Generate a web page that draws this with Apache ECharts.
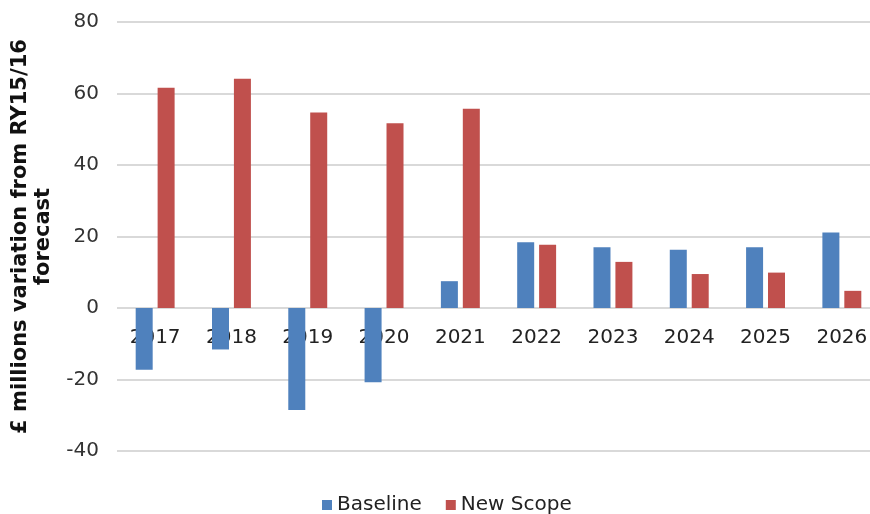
<!DOCTYPE html>
<html>
<head>
<meta charset="utf-8">
<script src="https://cdn.jsdelivr.net/npm/echarts@6/dist/echarts.min.js"></script>
<style>
  html, body { margin: 0; padding: 0; background: #fff; }
  #chart { width: 870px; height: 514px; }
</style>
</head>
<body>
<div id="chart"></div>
<script>
// years along the x axis
const years = ["2017", "2018", "2019", "2020", "2021", "2022", "2023", "2024", "2025", "2026"];
// £m variation from RY15/16 forecast
const baseline = [-17.3, -11.6, -28.5, -20.8, 7.5, 18.4, 17.0, 16.3, 17.0, 21.1];
const newScope = [61.6, 64.1, 54.7, 51.7, 55.7, 17.7, 12.9, 9.5, 9.9, 4.8];
const yTicks = { min: -40, max: 80, step: 20 };

const font = "DejaVu Sans, Verdana, sans-serif";

let myChart = echarts.init(document.getElementById("chart"));

let option = {
  backgroundColor: "#fff",
  animation: false,
  grid: {
    left: 117,
    width: 763,
    top: 22,
    bottom: 63,
    containLabel: false,
    outerBoundsMode: "none"
  },
  legend: {
    bottom: -6,
    left: 317,
    itemWidth: 10,
    itemHeight: 10,
    itemGap: 24,
    icon: "rect",
    textStyle: { fontFamily: font, fontSize: 20, color: "#222" },
    data: ["Baseline", "New Scope"]
  },
  xAxis: {
    type: "category",
    data: years,
    // labels sit just under the zero line, as in the original
    offset: -143,
    axisLine: { onZero: false, show: false },
    axisTick: { show: false },
    axisLabel: {
      fontFamily: font,
      fontSize: 20,
      color: "#222",
      margin: 20
    }
  },
  yAxis: {
    type: "value",
    min: yTicks.min,
    max: yTicks.max,
    interval: yTicks.step,
    name: "£ millions variation from RY15/16\nforecast",
    nameLocation: "middle",
    nameGap: 53,
    nameTextStyle: {
      fontFamily: font,
      fontSize: 21,
      fontWeight: "bold",
      color: "#111",
      lineHeight: 23
    },
    axisLine: { show: false },
    axisTick: { show: false },
    axisLabel: {
      fontFamily: font,
      fontSize: 20,
      color: "#333",
      margin: 18
    },
    splitLine: { lineStyle: { color: "#d9d9d9", width: 2 } }
  },
  series: [
    {
      name: "Baseline",
      type: "bar",
      data: baseline,
      barWidth: 17,
      barGap: "29%",
      itemStyle: { color: "#4F81BD" }
    },
    {
      name: "New Scope",
      type: "bar",
      data: newScope,
      barWidth: 17,
      itemStyle: { color: "#C0504D" }
    }
  ]
};

myChart.setOption(option);
</script>
</body>
</html>
